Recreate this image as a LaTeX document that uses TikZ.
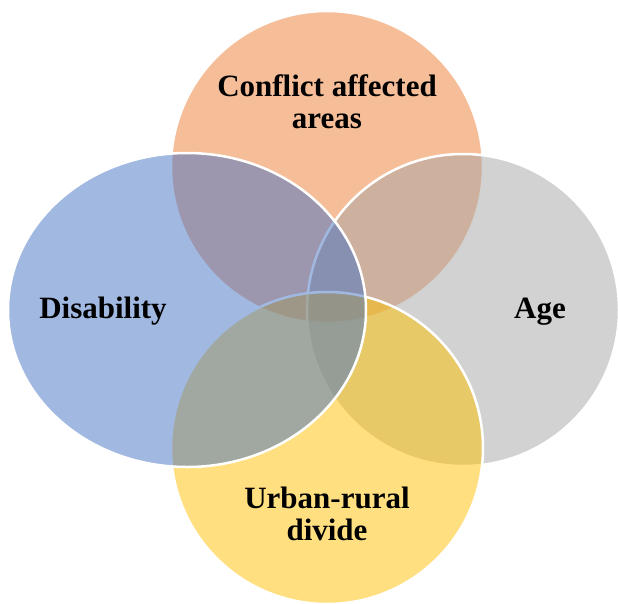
\documentclass[tikz,border=0pt]{standalone}
\usepackage{fontspec}
\setmainfont{Liberation Serif}
\definecolor{conflictcol}{RGB}{237,125,49}
\definecolor{agecol}{RGB}{165,165,165}
\definecolor{urbancol}{RGB}{255,192,0}
\definecolor{disabcol}{RGB}{68,114,196}
\newcommand{\vennset}[4]{
  % set with white rim
  \filldraw[vset,fill=#4] (#1) ellipse [x radius=#2, y radius=#3];
}
\begin{document}
\begin{tikzpicture}[x=1pt,y=-1pt,
  vset/.style={draw=white,line width=2.5pt,fill opacity=0.5},
  vlabel/.style={font=\bfseries\fontsize{31}{32}\selectfont,align=center,inner sep=0pt}]
\useasboundingbox (0,0) rectangle (618,603);

\vennset{327,167}{156}{156}{conflictcol}
\vennset{463,310}{156}{156}{agecol}
\vennset{327,448}{156}{156}{urbancol}
\vennset{187,310}{179}{157}{disabcol}

% labels
\node[vlabel] (conflict) at (327,102) {Conflict affected\\areas};
\node[vlabel,anchor=base] (disability) at (103,318) {Disability};
\node[vlabel,anchor=base] (age) at (540,318) {Age};
\node[vlabel] (urban) at (327,514) {Urban-rural\\divide};
\end{tikzpicture}
\end{document}
